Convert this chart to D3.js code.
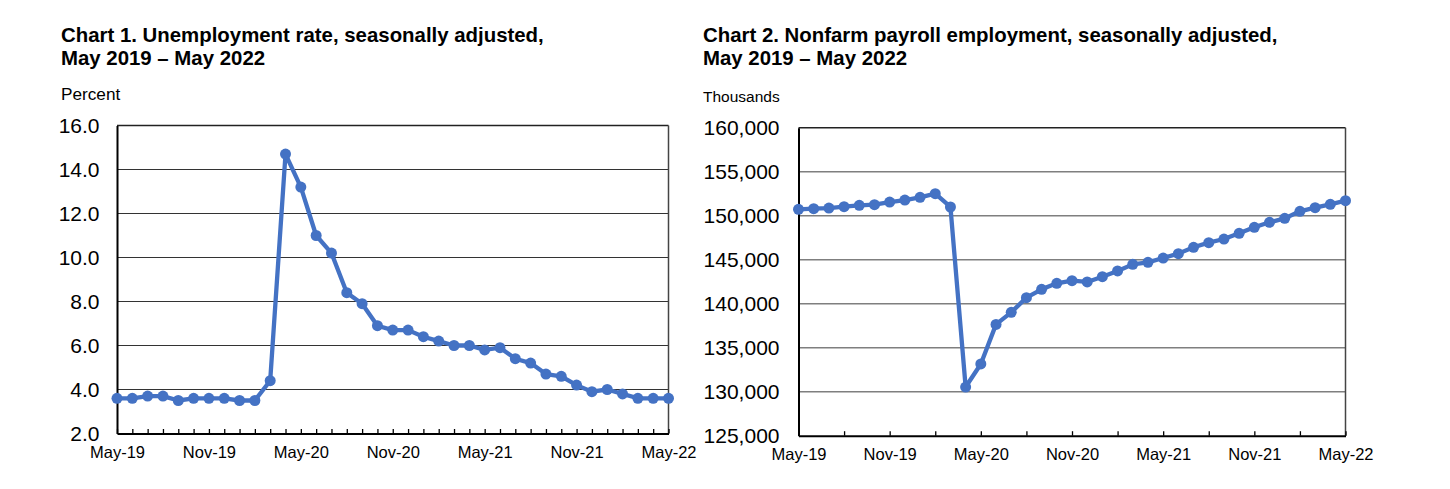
<!DOCTYPE html>
<meta charset="utf-8">
<title>Unemployment rate and nonfarm payroll employment</title>
<script src="https://d3js.org/d3.v7.min.js"></script>
<style>
  body { margin: 0; background: #fff; }
  svg text { font-family: "Liberation Sans", Arial, sans-serif; fill: #000; }
</style>
<body>
<div id="charts"></div>
<script>

// months May 2019 - May 2022
var months = ["May-19","Jun-19","Jul-19","Aug-19","Sep-19","Oct-19","Nov-19","Dec-19",
  "Jan-20","Feb-20","Mar-20","Apr-20","May-20","Jun-20","Jul-20","Aug-20","Sep-20","Oct-20",
  "Nov-20","Dec-20","Jan-21","Feb-21","Mar-21","Apr-21","May-21","Jun-21","Jul-21","Aug-21",
  "Sep-21","Oct-21","Nov-21","Dec-21","Jan-22","Feb-22","Mar-22","Apr-22","May-22"];

// percent
var unemploymentRate = [3.6, 3.6, 3.7, 3.7, 3.5, 3.6, 3.6, 3.6, 3.5, 3.5, 4.4, 14.7, 13.2,
  11.0, 10.2, 8.4, 7.9, 6.9, 6.7, 6.7, 6.4, 6.2, 6.0, 6.0, 5.8, 5.9, 5.4, 5.2, 4.7, 4.6,
  4.2, 3.9, 4.0, 3.8, 3.6, 3.6, 3.6];

// thousands
var payrollEmployment = [150720, 150800, 150870, 151020, 151180, 151250, 151550, 151780,
  152090, 152500, 150990, 130530, 133150, 137650, 139020, 140690, 141630, 142310, 142620,
  142470, 143070, 143720, 144470, 144700, 145190, 145690, 146410, 146940, 147350, 148000,
  148680, 149250, 149700, 150500, 150910, 151290, 151710];

var rateTicks = [2, 4, 6, 8, 10, 12, 14, 16];
var payrollTicks = [125000, 130000, 135000, 140000, 145000, 150000, 155000, 160000];
var monthLabels = ["May-19", "Nov-19", "May-20", "Nov-20", "May-21", "Nov-21", "May-22"];

var svg = d3.select("#charts")
  .append("svg")
    .attr("width", 1450)
    .attr("height", 489);

function drawChart(opt) {
  var g = svg.append("g");

  // title + unit label
  opt.title.forEach(function(line, i) {
    g.append("text")
      .attr("x", opt.textX)
      .attr("y", 42 + i * 23)
      .style("font-size", "20.4px")
      .style("font-weight", "bold")
      .text(line);
  });
  g.append("text")
    .attr("x", opt.textX)
    .attr("y", opt.unitY)
    .style("font-size", opt.unitSize)
    .text(opt.unit);

  var x = d3.scalePoint()
    .domain(months)
    .range([opt.left, opt.right]);

  var y = d3.scaleLinear()
    .domain([opt.ticks[0], opt.ticks[opt.ticks.length - 1]])
    .range([opt.bottom, opt.top]);

  // gridlines
  g.append("g")
    .selectAll("line")
    .data(opt.ticks.slice(1, -1))
    .enter()
    .append("line")
      .attr("x1", opt.left)
      .attr("x2", opt.right)
      .attr("y1", function(d) { return y(d); })
      .attr("y2", function(d) { return y(d); })
      .attr("stroke", opt.gridColor)
      .attr("stroke-width", opt.gridWidth);

  // frame
  g.append("line")
    .attr("x1", opt.left).attr("x2", opt.right)
    .attr("y1", opt.top).attr("y2", opt.top)
    .attr("stroke", "#222").attr("stroke-width", 1.5);
  g.append("line")
    .attr("x1", opt.right).attr("x2", opt.right)
    .attr("y1", opt.top).attr("y2", opt.bottom)
    .attr("stroke", "#444").attr("stroke-width", 1.5);

  // y axis
  var yAxis = g.append("g")
    .attr("transform", "translate(" + opt.left + ",0)")
    .call(d3.axisLeft(y)
      .tickValues(opt.ticks)
      .tickSize(0)
      .tickPadding(opt.yPad)
      .tickFormat(opt.yFormat));
  yAxis.select(".domain").attr("stroke", "#000").attr("stroke-width", 2);
  yAxis.selectAll("text").style("font-size", "21px");

  // x axis, ticks pointing up into the plot
  var xAxis = g.append("g")
    .attr("transform", "translate(0," + opt.bottom + ")")
    .call(d3.axisBottom(x)
      .tickValues(months.filter(function(m, i) { return i % opt.tickEvery === 0; }))
      .tickSizeInner(-4.5)
      .tickSizeOuter(0)
      .tickPadding(13)
      .tickFormat(function(m) { return monthLabels.indexOf(m) >= 0 ? m : ""; }));
  xAxis.select(".domain").attr("stroke", "#000").attr("stroke-width", 2);
  xAxis.selectAll(".tick line").attr("stroke", "#000").attr("stroke-width", 1.3);
  xAxis.selectAll("text").style("font-size", "16.5px");

  // series
  var line = d3.line()
    .x(function(d, i) { return x(months[i]); })
    .y(function(d) { return y(d); });

  g.append("path")
    .datum(opt.values)
    .attr("fill", "none")
    .attr("stroke", "#4472C4")
    .attr("stroke-width", 4.3)
    .attr("stroke-linejoin", "round")
    .attr("d", line);

  g.selectAll("circle.pt")
    .data(opt.values)
    .enter()
    .append("circle")
      .attr("class", "pt")
      .attr("cx", function(d, i) { return x(months[i]); })
      .attr("cy", function(d) { return y(d); })
      .attr("r", 5.5)
      .attr("fill", "#4472C4");
}

drawChart({
  title: ["Chart 1. Unemployment rate, seasonally adjusted,", "May 2019 \u2013 May 2022"],
  unit: "Percent",
  unitY: 100,
  unitSize: "17.2px",
  textX: 61,
  left: 117, right: 668.5, top: 125.5, bottom: 433.5,
  values: unemploymentRate,
  ticks: rateTicks,
  yFormat: d3.format(".1f"),
  yPad: 17.5,
  tickEvery: 1,
  gridColor: "#333",
  gridWidth: 1.2
});

drawChart({
  title: ["Chart 2. Nonfarm payroll employment, seasonally adjusted,", "May 2019 \u2013 May 2022"],
  unit: "Thousands",
  unitY: 102,
  unitSize: "15.5px",
  textX: 703,
  left: 798.5, right: 1345.5, top: 127.7, bottom: 435.7,
  values: payrollEmployment,
  ticks: payrollTicks,
  yFormat: d3.format(","),
  yPad: 19,
  tickEvery: 3,
  gridColor: "#7f7f7f",
  gridWidth: 1.6
});

</script>
</body>
</html>
